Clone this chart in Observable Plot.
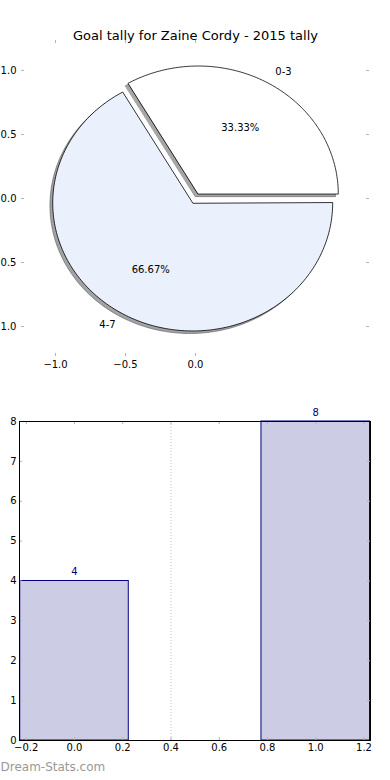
<!DOCTYPE html>
<html>
<head>
<meta charset="utf-8">
<script src="https://cdn.jsdelivr.net/npm/d3@7"></script>
<script src="https://cdn.jsdelivr.net/npm/@observablehq/plot@0.6"></script>
<style>
  html, body { margin: 0; padding: 0; background: #fff; }
  #chart svg { display: block; }
</style>
</head>
<body>
<div id="chart"></div>
<script>
// ---- data ----
const title = "Goal tally for Zaine Cordy - 2015 tally";
const pieLabels = ["0-3", "4-7"];
const pieValues = [4, 8];
const pieColors = ["#ffffff", "#eaf0fc"];
const pieExplode = [0.04, 0.04];
const pieXTicks = [-1.0, -0.5, 0.0];
const pieYTicks = [-1.0, -0.5, 0.0, 0.5, 1.0];

const barPositions = [0, 1];
const barValues = [4, 8];
const barXTicks = [-0.2, 0.0, 0.2, 0.4, 0.6, 0.8, 1.0, 1.2];
const barYTicks = [0, 1, 2, 3, 4, 5, 6, 7, 8];
const watermark = "Dream-Stats.com";

// ---- helpers ----
const fmt1 = d => (d < 0 ? "\u2212" : "") + Math.abs(d).toFixed(1);
const tickColor = "#b4b4b4";
const font = {fontFamily: "'DejaVu Sans', sans-serif", fontSize: "10px", color: "black", background: "white"};

// ---- pie geometry (from data) ----
const total = d3.sum(pieValues);
const wedges = [];
const pctText = [];
const labelText = [];
let acc = 0;
pieValues.forEach((v, i) => {
  const a1 = acc / total * 2 * Math.PI;
  acc += v;
  const a2 = acc / total * 2 * Math.PI;
  const mid = (a1 + a2) / 2;
  const cx = pieExplode[i] * Math.cos(mid);
  const cy = pieExplode[i] * Math.sin(mid);
  const n = 180;
  wedges.push({slice: i, x: cx, y: cy});
  for (let k = 0; k <= n; k++) {
    const a = a1 + (a2 - a1) * k / n;
    wedges.push({slice: i, x: cx + Math.cos(a), y: cy + Math.sin(a)});
  }
  labelText.push({x: cx + 1.1 * Math.cos(mid), y: cy + 1.1 * Math.sin(mid), text: pieLabels[i]});
  pctText.push({x: cx + 0.6 * Math.cos(mid), y: cy + 0.6 * Math.sin(mid), text: (v / total * 100).toFixed(2) + "%"});
});
const shadowColor = i => {
  const c = d3.rgb(pieColors[i]);
  return d3.rgb(c.r * 0.3, c.g * 0.3, c.b * 0.3).formatHex();
};

const pie = Plot.plot({
  width: 390, height: 390,
  marginLeft: 21, marginRight: 21, marginTop: 40, marginBottom: 34,
  style: font,
  x: {domain: [-1.243, 1.243]},
  y: {domain: [-1.234, 1.234]},
  marks: [
    // shadows
    Plot.line(wedges, {x: d => d.x - 0.02, y: d => d.y - 0.02, z: "slice", curve: "linear-closed",
      fill: d => shadowColor(d.slice), stroke: d => shadowColor(d.slice), strokeWidth: 1,
      fillOpacity: 0.5, strokeOpacity: 0.5}),
    // wedges
    Plot.line(wedges, {x: "x", y: "y", z: "slice", curve: "linear-closed",
      fill: d => pieColors[d.slice], stroke: "black", strokeWidth: 0.8}),
    Plot.text(pctText, {x: "x", y: "y", text: "text", textAnchor: "middle", fill: "black", fontSize: 10}),
    Plot.text(labelText.filter(d => d.x >= 0), {x: "x", y: "y", text: "text", textAnchor: "start", fill: "black", fontSize: 10}),
    Plot.text(labelText.filter(d => d.x < 0), {x: "x", y: "y", text: "text", textAnchor: "end", fill: "black", fontSize: 10}),
    // tick marks (inward)
    Plot.ruleY(pieYTicks, {y: d => d, insetRight: 345, stroke: tickColor}),
    Plot.ruleY(pieYTicks, {y: d => d, insetLeft: 345, stroke: tickColor}),
    Plot.ruleX(pieXTicks, {x: d => d, insetBottom: 313, stroke: tickColor}),
    Plot.ruleX(pieXTicks, {x: d => d, insetTop: 313, stroke: tickColor}),
    Plot.axisY({anchor: "left", ticks: pieYTicks, tickSize: 0, tickPadding: 5, tickFormat: fmt1, label: null}),
    Plot.axisX({anchor: "bottom", ticks: pieXTicks, tickSize: 0, tickPadding: 4, tickFormat: fmt1, label: null}),
    Plot.text([title], {frameAnchor: "top", dy: -10, fontSize: 13, fill: "black"})
  ]
});

// ---- bar chart ----
const bars = barPositions.map((p, i) => ({pos: p, value: barValues[i]}));
const half = 0.225;
const barChart = Plot.plot({
  width: 390, height: 390,
  marginLeft: 19, marginRight: 20, marginTop: 31, marginBottom: 40,
  style: font,
  x: {domain: [-0.228, 1.227]},
  y: {domain: [0, 8]},
  marks: [
    Plot.ruleX([0.4], {stroke: "#c0c0c0", strokeDasharray: "1,2"}),
    Plot.rect(bars, {x1: d => d.pos - half, x2: d => d.pos + half, y1: () => 0, y2: "value",
      fill: "#ccccE5", stroke: "#000080", strokeWidth: 1}),
    Plot.text(bars, {x: "pos", y: "value", text: d => String(d.value), dy: -9, fill: "#000080", fontSize: 10}),
    Plot.ruleY(barYTicks, {y: d => d, insetRight: 348, stroke: tickColor}),
    Plot.ruleY(barYTicks, {y: d => d, insetLeft: 348, stroke: tickColor}),
    Plot.ruleX(barXTicks, {x: d => d, insetBottom: 316, stroke: tickColor}),
    Plot.ruleX(barXTicks, {x: d => d, insetTop: 316, stroke: tickColor}),
    Plot.frame({stroke: "black", strokeWidth: 1}),
    Plot.axisY({anchor: "left", ticks: barYTicks, tickSize: 0, tickPadding: 3, tickFormat: d => String(d), label: null}),
    Plot.axisX({anchor: "bottom", ticks: barXTicks, tickSize: 0, tickPadding: 3, tickFormat: fmt1, label: null}),
    Plot.text([watermark], {frameAnchor: "bottom-left", dx: -19, dy: 30, textAnchor: "start", fontSize: 12, fill: "#999999"})
  ]
});

const root = document.getElementById("chart");
root.appendChild(pie);
root.appendChild(barChart);
</script>
</body>
</html>
